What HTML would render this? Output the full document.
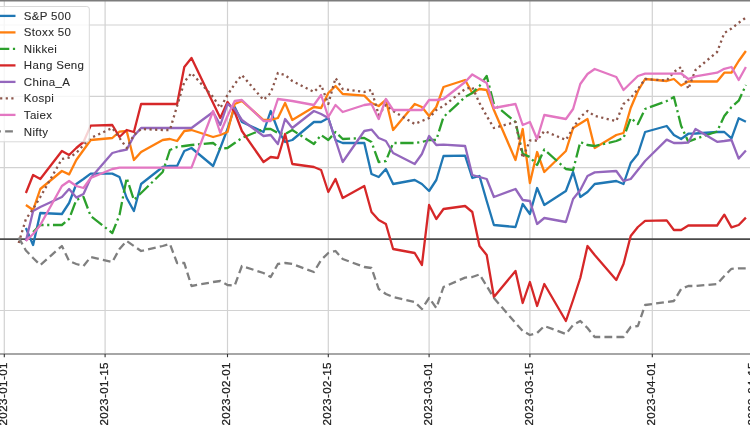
<!DOCTYPE html>
<html><head><meta charset="utf-8"><style>
html,body{margin:0;padding:0;background:#fff;width:750px;height:430px;overflow:hidden}
svg{display:block;font-family:"Liberation Sans",sans-serif;will-change:transform}
</style></head><body>
<svg width="750" height="430" viewBox="0 0 750 430">
<rect width="750" height="430" fill="#fff"/>
<g stroke="#d2d2d2" stroke-width="1.2"><line x1="4.3" y1="0" x2="4.3" y2="354" /><line x1="105.1" y1="0" x2="105.1" y2="354" /><line x1="227.5" y1="0" x2="227.5" y2="354" /><line x1="328.3" y1="0" x2="328.3" y2="354" /><line x1="429.1" y1="0" x2="429.1" y2="354" /><line x1="529.9" y1="0" x2="529.9" y2="354" /><line x1="652.3" y1="0" x2="652.3" y2="354" /><line x1="0" y1="25" x2="750" y2="25" /><line x1="0" y1="96.3" x2="750" y2="96.3" /><line x1="0" y1="167.6" x2="750" y2="167.6" /><line x1="0" y1="310.5" x2="750" y2="310.5" /></g>
<line x1="0" y1="239.2" x2="750" y2="239.2" stroke="#4a4a4a" stroke-width="1.7"/>
<polyline fill="none" stroke="#1f77b4" stroke-width="2.3" stroke-linejoin="round" points="25.9,228.0 33.1,245.0 40.3,213.0 61.9,214.0 69.1,203.0 76.3,184.0 83.5,179.0 90.7,173.6 112.3,173.6 119.5,177.0 126.7,198.0 133.9,211.0 141.1,184.0 162.7,167.0 169.9,166.0 177.1,166.0 184.3,151.0 191.5,148.0 213.1,166.0 220.3,148.0 227.5,129.0 234.7,107.0 241.9,122.0 263.5,132.0 270.7,111.0 277.9,130.0 285.1,142.0 292.3,140.0 313.9,122.0 321.1,122.0 328.3,118.0 335.5,140.0 342.7,143.0 364.3,143.0 371.5,174.0 378.7,177.0 385.9,169.0 393.1,184.0 414.7,180.0 421.9,184.0 429.1,191.0 436.3,180.0 443.5,156.0 465.1,155.6 472.3,178.0 479.5,176.0 486.7,201.0 493.9,225.0 515.5,227.0 522.7,204.0 529.9,214.0 537.1,188.0 544.3,205.0 565.9,191.0 573.1,172.0 580.3,197.0 587.5,192.0 594.7,184.0 616.3,181.0 623.5,184.0 630.7,163.0 637.9,154.0 645.1,132.0 666.7,126.0 673.9,135.0 681.1,139.0 688.3,133.7 695.5,133.5 717.1,132.0 724.3,132.0 731.5,138.4 738.7,118.3 745.9,121.7"/>
<polyline fill="none" stroke="#ff7f0e" stroke-width="2.3" stroke-linejoin="round" points="25.9,205.0 33.1,210.0 40.3,189.0 61.9,171.0 69.1,174.4 76.3,160.0 83.5,150.0 90.7,140.0 112.3,138.0 119.5,131.6 126.7,131.0 133.9,160.0 141.1,152.0 162.7,140.0 169.9,139.0 177.1,141.0 184.3,131.0 191.5,130.0 213.1,137.0 220.3,135.0 227.5,132.0 234.7,104.0 241.9,101.0 263.5,120.0 270.7,120.0 277.9,118.0 285.1,103.0 292.3,120.0 313.9,107.0 321.1,108.0 328.3,93.0 335.5,86.0 342.7,94.0 364.3,95.6 371.5,103.0 378.7,106.0 385.9,100.0 393.1,130.0 414.7,104.0 421.9,107.0 429.1,116.0 436.3,107.0 443.5,87.0 465.1,80.0 472.3,93.0 479.5,89.0 486.7,90.0 493.9,110.0 515.5,160.0 522.7,129.0 529.9,183.0 537.1,152.0 544.3,172.0 565.9,151.0 573.1,128.0 580.3,123.6 587.5,119.0 594.7,148.0 616.3,135.0 623.5,133.0 630.7,108.0 637.9,91.0 645.1,79.0 666.7,81.0 673.9,79.0 681.1,85.5 688.3,81.5 695.5,81.5 717.1,81.5 724.3,72.7 731.5,72.7 738.7,61.0 745.9,51.0"/>
<polyline fill="none" stroke="#2ca02c" stroke-width="2.3" stroke-linejoin="round" stroke-dasharray="13.3 3.6 2.2 3.6" points="33.1,232.0 40.3,225.0 61.9,225.0 69.1,219.0 76.3,200.0 83.5,197.0 90.7,216.0 112.3,233.0 119.5,215.0 126.7,178.0 133.9,200.0 141.1,193.0 162.7,172.0 169.9,150.0 177.1,147.0 184.3,146.0 191.5,145.0 213.1,143.0 220.3,149.0 227.5,148.0 234.7,143.0 241.9,138.0 263.5,129.0 270.7,129.0 277.9,133.0 285.1,134.0 292.3,130.0 313.9,144.0 321.1,135.0 328.3,140.0 335.5,132.0 342.7,139.0 364.3,138.0 371.5,142.0 378.7,162.0 385.9,161.0 393.1,143.0 414.7,143.0 421.9,142.0 429.1,140.0 436.3,140.0 443.5,117.0 465.1,97.0 472.3,93.0 479.5,86.0 486.7,76.0 493.9,104.0 515.5,122.0 522.7,153.7 529.9,157.0 537.1,165.0 544.3,149.5 565.9,169.0 573.1,170.0 580.3,142.0 587.5,145.0 594.7,146.0 616.3,141.0 623.5,138.0 630.7,118.0 637.9,124.0 645.1,109.0 666.7,101.0 673.9,97.0 681.1,125.7 688.3,141.8 695.5,138.9 717.1,131.5 724.3,116.0 731.5,107.0 738.7,100.7 745.9,85.0"/>
<polyline fill="none" stroke="#d62728" stroke-width="2.3" stroke-linejoin="round" points="25.9,193.0 33.1,175.0 40.3,179.0 61.9,151.0 69.1,155.0 76.3,148.0 83.5,142.0 90.7,125.6 112.3,125.0 119.5,137.0 126.7,130.0 133.9,132.0 141.1,104.0 162.7,104.0 169.9,104.0 177.1,104.0 184.3,67.0 191.5,58.0 213.1,103.0 220.3,118.0 227.5,102.0 234.7,112.0 241.9,131.0 263.5,162.0 270.7,157.0 277.9,158.0 285.1,134.0 292.3,164.0 313.9,167.0 321.1,170.0 328.3,192.0 335.5,179.0 342.7,198.0 364.3,186.0 371.5,212.0 378.7,220.0 385.9,224.0 393.1,249.0 414.7,253.0 421.9,265.0 429.1,205.0 436.3,219.0 443.5,209.0 465.1,206.0 472.3,212.0 479.5,246.0 486.7,255.0 493.9,297.0 515.5,271.0 522.7,303.0 529.9,282.0 537.1,306.0 544.3,284.0 565.9,321.0 573.1,300.0 580.3,278.0 587.5,246.0 594.7,255.0 616.3,280.0 623.5,264.0 630.7,236.0 637.9,227.0 645.1,220.8 666.7,220.4 673.9,230.0 681.1,230.0 688.3,225.5 695.5,225.5 717.1,225.5 724.3,214.6 731.5,227.4 738.7,225.0 745.9,217.6"/>
<polyline fill="none" stroke="#9467bd" stroke-width="2.3" stroke-linejoin="round" points="25.9,241.0 33.1,211.0 40.3,207.0 61.9,197.0 69.1,189.0 76.3,197.6 83.5,194.0 90.7,178.0 112.3,153.0 119.5,151.0 126.7,149.6 133.9,136.0 141.1,128.0 162.7,128.0 169.9,128.0 177.1,128.0 184.3,128.0 191.5,128.0 213.1,112.0 220.3,125.0 227.5,104.0 234.7,109.0 241.9,120.0 263.5,136.0 270.7,135.0 277.9,144.0 285.1,119.0 292.3,128.0 313.9,111.0 321.1,114.0 328.3,118.0 335.5,140.0 342.7,162.0 364.3,131.0 371.5,129.6 378.7,138.0 385.9,141.0 393.1,153.0 414.7,164.0 421.9,154.0 429.1,136.0 436.3,145.0 443.5,144.6 465.1,146.0 472.3,175.0 479.5,177.0 486.7,179.0 493.9,197.0 515.5,189.0 522.7,200.0 529.9,201.0 537.1,224.0 544.3,218.0 565.9,222.0 573.1,199.0 580.3,190.0 587.5,176.0 594.7,172.4 616.3,171.0 623.5,181.0 630.7,179.0 637.9,170.0 645.1,161.0 666.7,139.6 673.9,143.0 681.1,143.0 688.3,142.5 695.5,129.0 717.1,141.8 724.3,141.0 731.5,140.0 738.7,158.6 745.9,150.6"/>
<polyline fill="none" stroke="#8c564b" stroke-width="2.3" stroke-linejoin="round" stroke-dasharray="2.2 3.4" points="18.7,243.0 25.9,219.0 33.1,209.0 40.3,197.0 61.9,159.0 69.1,157.5 76.3,153.0 83.5,145.0 90.7,138.0 112.3,128.0 119.5,138.0 126.7,148.0 133.9,135.0 141.1,129.0 162.7,130.0 169.9,130.0 177.1,106.0 184.3,82.0 191.5,73.0 213.1,97.0 220.3,108.0 227.5,95.0 234.7,84.0 241.9,75.0 263.5,100.0 270.7,93.0 277.9,73.0 285.1,75.0 292.3,81.0 313.9,92.0 321.1,85.0 328.3,104.0 335.5,78.0 342.7,89.0 364.3,92.0 371.5,90.0 378.7,115.0 385.9,105.0 393.1,111.0 414.7,124.0 421.9,121.0 429.1,118.0 436.3,110.0 443.5,106.0 465.1,89.0 472.3,87.0 479.5,103.0 486.7,116.0 493.9,128.0 515.5,122.0 522.7,158.0 529.9,140.5 537.1,140.5 544.3,131.0 565.9,140.0 573.1,128.0 580.3,117.0 587.5,111.0 594.7,116.0 616.3,121.0 623.5,104.0 630.7,98.0 637.9,89.0 645.1,79.0 666.7,80.5 673.9,72.0 681.1,67.0 688.3,89.0 695.5,70.0 717.1,52.0 724.3,33.0 731.5,28.6 738.7,22.7 745.9,17.6"/>
<polyline fill="none" stroke="#e377c2" stroke-width="2.3" stroke-linejoin="round" points="25.9,241.0 33.1,234.0 40.3,225.0 61.9,186.0 69.1,181.0 76.3,186.0 83.5,188.0 90.7,178.0 112.3,169.0 119.5,167.6 126.7,167.6 133.9,167.6 141.1,167.6 162.7,167.6 169.9,167.6 177.1,167.6 184.3,167.6 191.5,167.6 213.1,111.0 220.3,133.0 227.5,116.0 234.7,101.0 241.9,100.0 263.5,121.0 270.7,121.0 277.9,99.0 285.1,100.0 292.3,101.0 313.9,105.0 321.1,95.0 328.3,117.0 335.5,105.0 342.7,112.0 364.3,105.0 371.5,104.0 378.7,119.0 385.9,99.0 393.1,110.0 414.7,110.0 421.9,110.0 429.1,100.0 436.3,100.0 443.5,99.0 465.1,82.0 472.3,74.4 479.5,78.7 486.7,83.0 493.9,108.0 515.5,104.0 522.7,125.0 529.9,122.0 537.1,139.0 544.3,115.0 565.9,119.0 573.1,109.0 580.3,84.0 587.5,74.0 594.7,69.0 616.3,77.0 623.5,90.0 630.7,83.0 637.9,76.0 645.1,73.6 666.7,73.6 673.9,73.6 681.1,73.5 688.3,79.0 695.5,76.4 717.1,72.7 724.3,68.8 731.5,67.0 738.7,80.0 745.9,67.0"/>
<polyline fill="none" stroke="#7f7f7f" stroke-width="2.3" stroke-linejoin="round" stroke-dasharray="7.8 4.2" points="18.7,237.5 25.9,250.5 33.1,258.0 40.3,265.0 61.9,246.0 69.1,261.0 76.3,264.0 83.5,266.0 90.7,257.0 112.3,262.0 119.5,249.0 126.7,241.0 133.9,246.0 141.1,251.0 162.7,246.0 169.9,244.0 177.1,263.0 184.3,263.0 191.5,286.0 213.1,282.0 220.3,281.0 227.5,285.0 234.7,285.6 241.9,266.0 263.5,273.0 270.7,277.0 277.9,264.0 285.1,263.0 292.3,264.0 313.9,272.0 321.1,260.0 328.3,253.0 335.5,251.0 342.7,259.0 364.3,267.0 371.5,268.0 378.7,289.0 385.9,294.0 393.1,297.0 414.7,302.0 421.9,309.0 429.1,298.0 436.3,308.0 443.5,287.0 465.1,277.6 472.3,277.0 479.5,274.4 486.7,286.0 493.9,298.0 515.5,323.0 522.7,331.0 529.9,335.0 537.1,333.0 544.3,326.0 565.9,334.0 573.1,325.0 580.3,321.0 587.5,328.0 594.7,337.0 616.3,337.0 623.5,337.0 630.7,327.0 637.9,326.0 645.1,305.0 666.7,302.0 673.9,301.0 681.1,289.0 688.3,286.0 695.5,286.0 717.1,284.0 724.3,276.0 731.5,268.8 738.7,268.3 745.9,268.3"/>
<line x1="0" y1="0.7" x2="750" y2="0.7" stroke="#7c7c7c" stroke-width="1.5"/>
<line x1="0" y1="354" x2="750" y2="354" stroke="#888" stroke-width="1.6"/>
<line x1="4.3" y1="354" x2="4.3" y2="357.2" stroke="#333" stroke-width="1.1"/>
<text transform="translate(7.2,362) rotate(-90)" text-anchor="end" font-family="Liberation Sans, sans-serif" font-size="11.6" letter-spacing="0.42" fill="#222" stroke="#222" stroke-width="0.25">2023-01-01</text>
<line x1="105.1" y1="354" x2="105.1" y2="357.2" stroke="#333" stroke-width="1.1"/>
<text transform="translate(108.0,362) rotate(-90)" text-anchor="end" font-family="Liberation Sans, sans-serif" font-size="11.6" letter-spacing="0.42" fill="#222" stroke="#222" stroke-width="0.25">2023-01-15</text>
<line x1="227.5" y1="354" x2="227.5" y2="357.2" stroke="#333" stroke-width="1.1"/>
<text transform="translate(230.4,362) rotate(-90)" text-anchor="end" font-family="Liberation Sans, sans-serif" font-size="11.6" letter-spacing="0.42" fill="#222" stroke="#222" stroke-width="0.25">2023-02-01</text>
<line x1="328.3" y1="354" x2="328.3" y2="357.2" stroke="#333" stroke-width="1.1"/>
<text transform="translate(331.2,362) rotate(-90)" text-anchor="end" font-family="Liberation Sans, sans-serif" font-size="11.6" letter-spacing="0.42" fill="#222" stroke="#222" stroke-width="0.25">2023-02-15</text>
<line x1="429.1" y1="354" x2="429.1" y2="357.2" stroke="#333" stroke-width="1.1"/>
<text transform="translate(432.0,362) rotate(-90)" text-anchor="end" font-family="Liberation Sans, sans-serif" font-size="11.6" letter-spacing="0.42" fill="#222" stroke="#222" stroke-width="0.25">2023-03-01</text>
<line x1="529.9" y1="354" x2="529.9" y2="357.2" stroke="#333" stroke-width="1.1"/>
<text transform="translate(532.8,362) rotate(-90)" text-anchor="end" font-family="Liberation Sans, sans-serif" font-size="11.6" letter-spacing="0.42" fill="#222" stroke="#222" stroke-width="0.25">2023-03-15</text>
<line x1="652.3" y1="354" x2="652.3" y2="357.2" stroke="#333" stroke-width="1.1"/>
<text transform="translate(655.2,362) rotate(-90)" text-anchor="end" font-family="Liberation Sans, sans-serif" font-size="11.6" letter-spacing="0.42" fill="#222" stroke="#222" stroke-width="0.25">2023-04-01</text>
<line x1="753.1" y1="354" x2="753.1" y2="357.2" stroke="#333" stroke-width="1.1"/>
<text transform="translate(756.0,362) rotate(-90)" text-anchor="end" font-family="Liberation Sans, sans-serif" font-size="11.6" letter-spacing="0.42" fill="#222" stroke="#222" stroke-width="0.25">2023-04-15</text>
<rect x="-6" y="6.5" width="95.3" height="135.3" rx="2.5" fill="#fff" fill-opacity="0.8" stroke="#d9d9d9" stroke-width="1"/>
<line x1="-6" y1="15.9" x2="15.5" y2="15.9" stroke="#1f77b4" stroke-width="2.3"/>
<text x="23.8" y="19.5" font-family="Liberation Sans, sans-serif" font-size="11.5" letter-spacing="0.33" fill="#2a2a2a" stroke="#2a2a2a" stroke-width="0.08">S&amp;P 500</text>
<line x1="-6" y1="32.4" x2="15.5" y2="32.4" stroke="#ff7f0e" stroke-width="2.3"/>
<text x="23.8" y="36.1" font-family="Liberation Sans, sans-serif" font-size="11.5" letter-spacing="0.33" fill="#2a2a2a" stroke="#2a2a2a" stroke-width="0.08">Stoxx 50</text>
<line x1="-4.0" y1="48.9" x2="15.5" y2="48.9" stroke="#2ca02c" stroke-width="2.3" stroke-dasharray="13.3 3.6 2.2 3.6"/>
<text x="23.8" y="52.7" font-family="Liberation Sans, sans-serif" font-size="11.5" letter-spacing="0.33" fill="#2a2a2a" stroke="#2a2a2a" stroke-width="0.08">Nikkei</text>
<line x1="-6" y1="65.4" x2="15.5" y2="65.4" stroke="#d62728" stroke-width="2.3"/>
<text x="23.8" y="69.2" font-family="Liberation Sans, sans-serif" font-size="11.5" letter-spacing="0.33" fill="#2a2a2a" stroke="#2a2a2a" stroke-width="0.08">Hang Seng</text>
<line x1="-6" y1="81.9" x2="15.5" y2="81.9" stroke="#9467bd" stroke-width="2.3"/>
<text x="23.8" y="85.8" font-family="Liberation Sans, sans-serif" font-size="11.5" letter-spacing="0.33" fill="#2a2a2a" stroke="#2a2a2a" stroke-width="0.08">China_A</text>
<line x1="-5.5" y1="98.4" x2="15.5" y2="98.4" stroke="#8c564b" stroke-width="2.3" stroke-dasharray="2.2 3.4"/>
<text x="23.8" y="102.4" font-family="Liberation Sans, sans-serif" font-size="11.5" letter-spacing="0.33" fill="#2a2a2a" stroke="#2a2a2a" stroke-width="0.08">Kospi</text>
<line x1="-6" y1="114.9" x2="15.5" y2="114.9" stroke="#e377c2" stroke-width="2.3"/>
<text x="23.8" y="119.0" font-family="Liberation Sans, sans-serif" font-size="11.5" letter-spacing="0.33" fill="#2a2a2a" stroke="#2a2a2a" stroke-width="0.08">Taiex</text>
<line x1="-6.9" y1="131.4" x2="15.5" y2="131.4" stroke="#7f7f7f" stroke-width="2.3" stroke-dasharray="7.8 4.2"/>
<text x="23.8" y="135.6" font-family="Liberation Sans, sans-serif" font-size="11.5" letter-spacing="0.33" fill="#2a2a2a" stroke="#2a2a2a" stroke-width="0.08">Nifty</text>
</svg>
</body></html>
